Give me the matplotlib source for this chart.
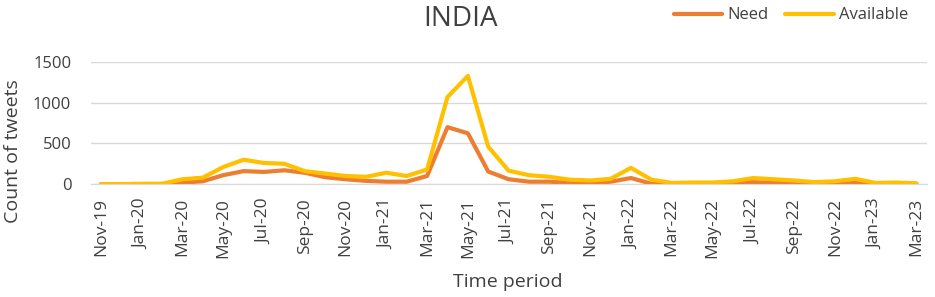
import matplotlib
matplotlib.use("Agg")
import matplotlib.pyplot as plt

months = ["Nov-19", "Dec-19", "Jan-20", "Feb-20", "Mar-20", "Apr-20", "May-20", "Jun-20",
          "Jul-20", "Aug-20", "Sep-20", "Oct-20", "Nov-20", "Dec-20", "Jan-21", "Feb-21",
          "Mar-21", "Apr-21", "May-21", "Jun-21", "Jul-21", "Aug-21", "Sep-21", "Oct-21",
          "Nov-21", "Dec-21", "Jan-22", "Feb-22", "Mar-22", "Apr-22", "May-22", "Jun-22",
          "Jul-22", "Aug-22", "Sep-22", "Oct-22", "Nov-22", "Dec-22", "Jan-23", "Feb-23",
          "Mar-23"]
need = [0, 0, 0, 0, 20, 35, 110, 160, 150, 170, 140, 85, 60, 40, 30, 30,
        100, 700, 625, 155, 60, 30, 30, 15, 10, 30, 75, 5, 5, 0,
        5, 10, 25, 15, 10, 5, 10, 25, 5, 5, 5]
available = [0, 0, 5, 5, 60, 80, 210, 300, 260, 250, 160, 130, 100, 90, 140, 100,
             180, 1070, 1330, 460, 165, 110, 90, 55, 45, 65, 200, 55, 15, 20,
             20, 35, 75, 60, 45, 25, 35, 65, 15, 20, 10]

plt.rcParams['font.family'] = ['Open Sans', 'DejaVu Sans']
TXT = "#404040"

fig = plt.figure(figsize=(9.35, 2.97), dpi=100)
ax = fig.add_axes([0.097, 0.38, 0.894, 0.411])

x = list(range(len(months)))
ax.plot(x, need, color="#ED7D31", lw=3, label="Need", solid_joinstyle="round", solid_capstyle="round")
ax.plot(x, available, color="#FFC000", lw=3, label="Available", solid_joinstyle="round", solid_capstyle="round")

ax.set_xlim(-0.5, len(months) - 0.5)
ax.set_ylim(0, 1500)
ax.set_yticks([0, 500, 1000, 1500])
ax.set_xticks(x[::2])
ax.set_xticklabels(months[::2], rotation=90, fontsize=12.5, color=TXT)
ax.tick_params(axis="y", labelsize=12, labelcolor=TXT, length=0, pad=14)
ax.tick_params(axis="x", length=0, pad=10)
ax.grid(axis="y", color="#D9D9D9", lw=1)
ax.set_axisbelow(True)
for s in ["top", "right", "left"]:
    ax.spines[s].set_visible(False)
ax.spines["bottom"].set_color("#D9D9D9")

fig.text(0.014, 0.49, "Count of tweets", fontsize=14, color=TXT, rotation=90,
         ha="center", va="center")
fig.text(0.543, 0.05, "Time period", fontsize=14, color=TXT, ha="center", va="center")
fig.text(0.492, 0.935, "INDIA", fontsize=20, color=TXT, ha="center", va="center")

leg = fig.legend(loc="center", bbox_to_anchor=(0.846, 0.948), ncol=2, frameon=False,
                 fontsize=12, handlelength=2.9, columnspacing=1.0, handletextpad=0.3)
for t in leg.get_texts():
    t.set_color(TXT)

fig.savefig("out.png", dpi=100)
